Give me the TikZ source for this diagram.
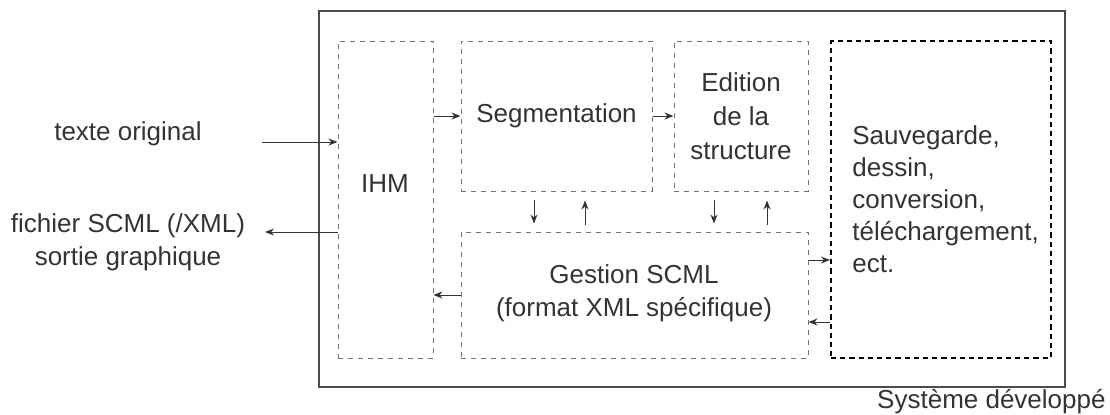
\documentclass[tikz,border=0pt]{standalone}
\usepackage{fontspec}
\setmainfont{Liberation Sans}
\usetikzlibrary{positioning, arrows.meta, calc}

\tikzset{
  bloc/.style={draw=black!55, dash pattern=on 2.5pt off 2.5pt, line width=0.5pt, inner sep=0pt},
  blocfort/.style={draw=black, dash pattern=on 2.6pt off 2pt, line width=1.1pt, inner sep=0pt},
  texte/.style={text=black!80, font=\fontsize{13}{16.5}\selectfont, inner sep=0pt},
  fleche/.style={draw=black!80, line width=0.5pt, -{Stealth[length=4.5pt, width=3.5pt]}}
}

\begin{document}
\begin{tikzpicture}[x=0.5pt, y=-0.5pt]
        \useasboundingbox (0,0) rectangle (1110,414);

                % Draw the outer frame
                \node[draw=black!70, line width=0.6pt, minimum width=373pt, minimum height=188pt, inner sep=0pt] (systeme) at (692,199) {};
                \node[texte, anchor=east] (systxt) at (1106,402) {Système développé};

                % Draw the blocks
                \node[bloc, minimum width=47.5pt, minimum height=158.5pt] (ihm) at (385.5,199.5) {};
                \node[bloc, minimum width=95.5pt, minimum height=75pt] (seg) at (556.5,116) {};
                \node[bloc, minimum width=67pt, minimum height=75pt] (edit) at (741,116) {};
                \node[bloc, minimum width=173.5pt, minimum height=63pt] (gest) at (634.5,295) {};
                \node[blocfort, minimum width=110pt, minimum height=158.5pt] (sauv) at (941,199.5) {};

                % Texts of the blocks
                \node[texte] (ihmtxt) at (385,184) {IHM};
                \node[texte] (segtxt) at (seg) {Segmentation};
                \node[texte, align=center, font=\fontsize{13}{17}\selectfont] (edittxt) at (edit) {Edition\\de la\\structure};
                \node[texte, align=center] (gesttxt) at (634,293) {Gestion SCML\\(format XML spécifique)};
                \node[texte, align=left, anchor=west, font=\fontsize{13}{16}\selectfont] (sauvtxt) at (852,199) {Sauvegarde,\\dessin,\\conversion,\\téléchargement,\\ect.};

                % Texts outside the frame
                \node[texte] (entreetxt) at (128,134) {texte original};
                \node[texte, align=center] (sortietxt) at (128,242) {fichier SCML (/XML)\\sortie graphique};

                \coordinate (entree) at (262,142);
                \coordinate (sortie) at (265,232);

                % Draw the arrows outside
                \draw[fleche] (entree) -- (entree -| ihm.west);
                \draw[fleche] (sortie -| ihm.west) -- (sortie);

                % Draw the arrows between blocks
                \draw[fleche] (ihm.east |- seg.west) -- (seg.west);
                \draw[fleche] (seg.east) -- (edit.west);
                \draw[fleche] (gest.west) -- (gest.west -| ihm.east);
                \draw[fleche] (gest.east |- 0,260) -- (sauv.west |- 0,260);
                \draw[fleche] (sauv.west |- 0,322) -- (gest.east |- 0,322);

                \draw[fleche] ($(seg.south -| 534,0)+(0,8)$) -- ($(gest.north -| 534,0)+(0,-8)$);
                \draw[fleche] ($(gest.north -| 585,0)+(0,-7)$) -- ($(seg.south -| 585,0)+(0,9)$);
                \draw[fleche] ($(edit.south -| 714,0)+(0,8)$) -- ($(gest.north -| 714,0)+(0,-8)$);
                \draw[fleche] ($(gest.north -| 767,0)+(0,-7)$) -- ($(edit.south -| 767,0)+(0,9)$);
    \end{tikzpicture}
\end{document}
